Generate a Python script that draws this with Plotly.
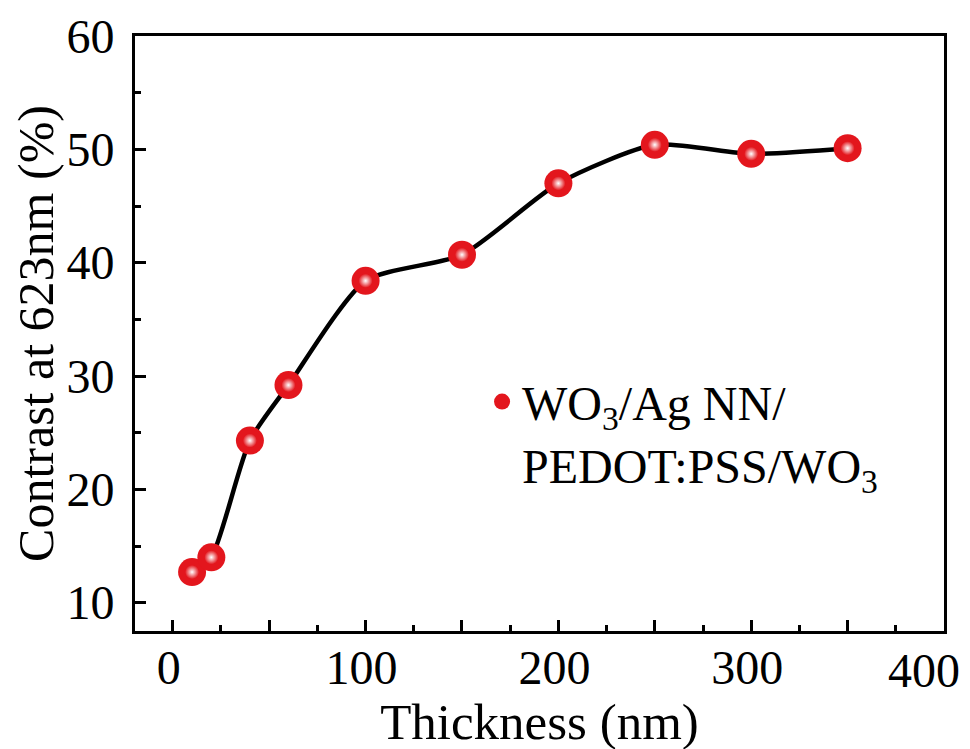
import plotly.graph_objects as go

thickness = [10, 20, 40, 60, 100, 150, 200, 250, 300, 350]
contrast = [12.7, 14.0, 24.3, 29.2, 38.4, 40.7, 47.0, 50.4, 49.6, 50.1]

x_major = [0, 50, 100, 150, 200, 250, 300, 350, 400]
x_labels = ["0", "", "100", "", "200", "", "300", "", ""]
x_last_label = "400"
x_minor = [25, 75, 125, 175, 225, 275, 325, 375]
y_major = [10, 20, 30, 40, 50, 60]
y_minor = [15, 25, 35, 45, 55]

series_name = "WO<sub>3</sub>/Ag NN/<br>PEDOT:PSS/WO<sub>3</sub>"

RED = "#e3161d"
FONT = "Liberation Serif"
TICK_SIZE = 48

fig = go.Figure()
fig.add_trace(go.Scatter(x=thickness, y=contrast, mode="lines",
                         line=dict(color="black", width=4.5, shape="spline", smoothing=0.65),
                         showlegend=False, hoverinfo="skip"))
fig.add_trace(go.Scatter(x=thickness, y=contrast, mode="markers", name=series_name,
                         marker=dict(color=RED, size=28, line=dict(width=0))))
fig.add_trace(go.Scatter(x=thickness, y=contrast, mode="markers", showlegend=False,
                         marker=dict(color=RED, size=14, line=dict(width=0),
                                     gradient=dict(type="radial", color="white"))))

axis_common = dict(showgrid=False, zeroline=False, showline=True, linecolor="black",
                   linewidth=3, ticks="inside", tickcolor="black", tickwidth=2.5,
                   ticklen=11, mirror=True, automargin=False,
                   tickfont=dict(family=FONT, size=TICK_SIZE, color="black"))

fig.update_xaxes(range=[-19.6, 400], tickmode="array", tickvals=x_major, ticktext=x_labels,
                 minor=dict(tickmode="array", tickvals=x_minor, ticks="inside", ticklen=6,
                            tickwidth=2.5, tickcolor="black"),
                 title=dict(text="Thickness (nm)", font=dict(family=FONT, size=51, color="black"),
                            standoff=0),
                 ticklabelshift=-4, ticklabelstandoff=-8,
                 **axis_common)
fig.update_yaxes(range=[7.5, 60], tickmode="array", tickvals=y_major,
                 minor=dict(tickmode="array", tickvals=y_minor, ticks="inside", ticklen=6,
                            tickwidth=2.5, tickcolor="black"),
                 title=dict(text="Contrast at 623nm (%)", font=dict(family=FONT, size=50, color="black"),
                            standoff=4),
                 ticklabelstandoff=8,
                 **axis_common)

# last x tick label sits shifted left in the reference (kept inside the page)
fig.add_annotation(x=x_major[-1], y=0, xref="x", yref="paper", text=x_last_label,
                   showarrow=False, xanchor="center", yanchor="top", xshift=-20, yshift=-11,
                   font=dict(family=FONT, size=TICK_SIZE, color="black"))

fig.update_layout(
    width=970, height=749,
    margin=dict(l=127, r=34, t=28, b=126),
    paper_bgcolor="white", plot_bgcolor="white",
    legend=dict(x=0.429, y=0.449, xanchor="left", yanchor="top", valign="top",
                font=dict(family=FONT, size=48, color="black"),
                bgcolor="rgba(0,0,0,0)", itemsizing="trace"),
)

fig.write_html("out.html")
